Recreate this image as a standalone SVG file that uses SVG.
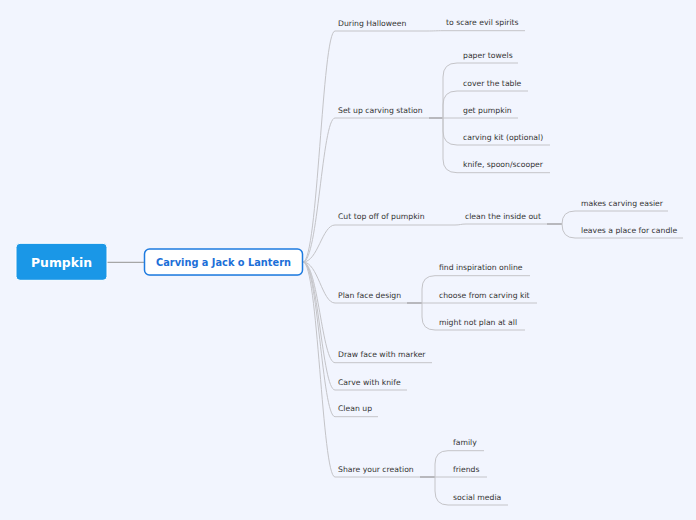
<svg xmlns="http://www.w3.org/2000/svg" width="696" height="520" viewBox="0 0 696 520">
<style>
.t{font-family:"DejaVu Sans",Verdana,sans-serif;font-size:7.7px;fill:#333}
.c{fill:none;stroke:#C4C4C8;stroke-width:1}
.f{fill:none;stroke:#A9A9AD;stroke-width:1.6}
</style>
<rect width="696" height="520" fill="#F2F5FE"/>
<g id="connectors">
<path d="M107,262.3 L144,262.3" fill="none" stroke="#A6A6A6" stroke-width="1.2"/>
<!-- main branches -->
<path class="c" d="M303,262 C318,262 322,31 335,31 L427,31 C435,31 436,30.7 443,30.7 L525,30.7"/>
<path class="c" d="M303,262 C318,262 322,118 335,118 L429,118"/>
<path class="c" d="M303,262 C318,262 322,225 335,225 L455,225 C460,225 461,224 466,224 L547,224"/>
<path class="c" d="M303,262 C318,262 322,303 335,303 L407,303"/>
<path class="c" d="M303,262 C318,262 322,362.7 335,362.7 L432,362.7"/>
<path class="c" d="M303,262 C318,262 322,390 335,390 L407,390"/>
<path class="c" d="M303,262 C318,262 322,416.7 335,416.7 L378,416.7"/>
<path class="c" d="M303,262 C318,262 322,477 335,477 L420,477"/>
<!-- forks -->
<path class="f" d="M429,118 L443,118"/>
<path class="f" d="M547,224 L562,224"/>
<path class="f" d="M407,303 L422,303"/>
<path class="f" d="M420,477 L435,477"/>
<!-- set up children -->
<path class="c" d="M443,118 L443,77 Q443,63 457,63 L518,63"/>
<path class="c" d="M443,118 L443,105 Q443,91 457,91 L528,91"/>
<path class="c" d="M443,118 L518,118"/>
<path class="c" d="M443,118 L443,131 Q443,145 457,145 L550,145"/>
<path class="c" d="M443,118 L443,159 Q443,172.7 457,172.7 L550,172.7"/>
<!-- clean children -->
<path class="c" d="M562,224 Q562,211 575,211 L668,211"/>
<path class="c" d="M562,224 Q562,238 575,238 L683,238"/>
<!-- plan children -->
<path class="c" d="M422,303 L422,289 Q422,275.7 435,275.7 L530,275.7"/>
<path class="c" d="M422,303 L537,303"/>
<path class="c" d="M422,303 L422,317 Q422,330 435,330 L525,330"/>
<!-- share children -->
<path class="c" d="M435,477 L435,464 Q435,450.7 448,450.7 L484,450.7"/>
<path class="c" d="M435,477 L487,477"/>
<path class="c" d="M435,477 L435,491 Q435,505 448,505 L508,505"/>
</g>
<g id="root">
<rect x="16" y="243.3" width="91" height="37" rx="4" fill="#1A97E7" stroke="#FFFFFF" stroke-width="1"/>
<text x="61.5" y="266.5" text-anchor="middle" font-family="DejaVu Sans,Verdana,sans-serif" font-size="12.4" font-weight="bold" fill="#FFFFFF">Pumpkin</text>
</g>
<g id="main">
<rect x="145" y="250" width="158" height="26" rx="5" fill="#1E5FB0" opacity="0.15"/>
<rect x="144.5" y="249" width="158" height="26" rx="5" fill="#FFFFFF" stroke="#1E7BE0" stroke-width="1.5"/>
<text x="223.5" y="265.5" text-anchor="middle" font-family="DejaVu Sans,Verdana,sans-serif" font-size="9.8" font-weight="bold" fill="#1C6FD8">Carving a Jack o Lantern</text>
</g>
<g id="during"><text class="t" x="338" y="26">During Halloween</text></g>
<g id="scare"><text class="t" x="446" y="25.3">to scare evil spirits</text></g>
<g id="setup"><text class="t" x="338" y="112.8">Set up carving station</text></g>
<g id="towels"><text class="t" x="463" y="57.8">paper towels</text></g>
<g id="cover"><text class="t" x="463" y="85.6">cover the table</text></g>
<g id="getpumpkin"><text class="t" x="463" y="112.8">get pumpkin</text></g>
<g id="kit"><text class="t" x="463" y="139.7">carving kit (optional)</text></g>
<g id="knife"><text class="t" x="463" y="167.4">knife, spoon/scooper</text></g>
<g id="cut"><text class="t" x="338" y="219.3">Cut top off of pumpkin</text></g>
<g id="cleaninside"><text class="t" x="465" y="218.7">clean the inside out</text></g>
<g id="easier"><text class="t" x="581" y="205.5">makes carving easier</text></g>
<g id="candle"><text class="t" x="581" y="233">leaves a place for candle</text></g>
<g id="plan"><text class="t" x="338" y="297.7">Plan face design</text></g>
<g id="inspiration"><text class="t" x="439" y="270.2">find inspiration online</text></g>
<g id="choose"><text class="t" x="439" y="297.7">choose from carving kit</text></g>
<g id="mightnot"><text class="t" x="439" y="324.7">might not plan at all</text></g>
<g id="draw"><text class="t" x="338" y="357.2">Draw face with marker</text></g>
<g id="carve"><text class="t" x="338" y="384.7">Carve with knife</text></g>
<g id="cleanup"><text class="t" x="338" y="411.3">Clean up</text></g>
<g id="share"><text class="t" x="338" y="471.7">Share your creation</text></g>
<g id="family"><text class="t" x="453" y="445.3">family</text></g>
<g id="friends"><text class="t" x="453" y="471.7">friends</text></g>
<g id="social"><text class="t" x="453" y="499.5">social media</text></g>
</svg>
